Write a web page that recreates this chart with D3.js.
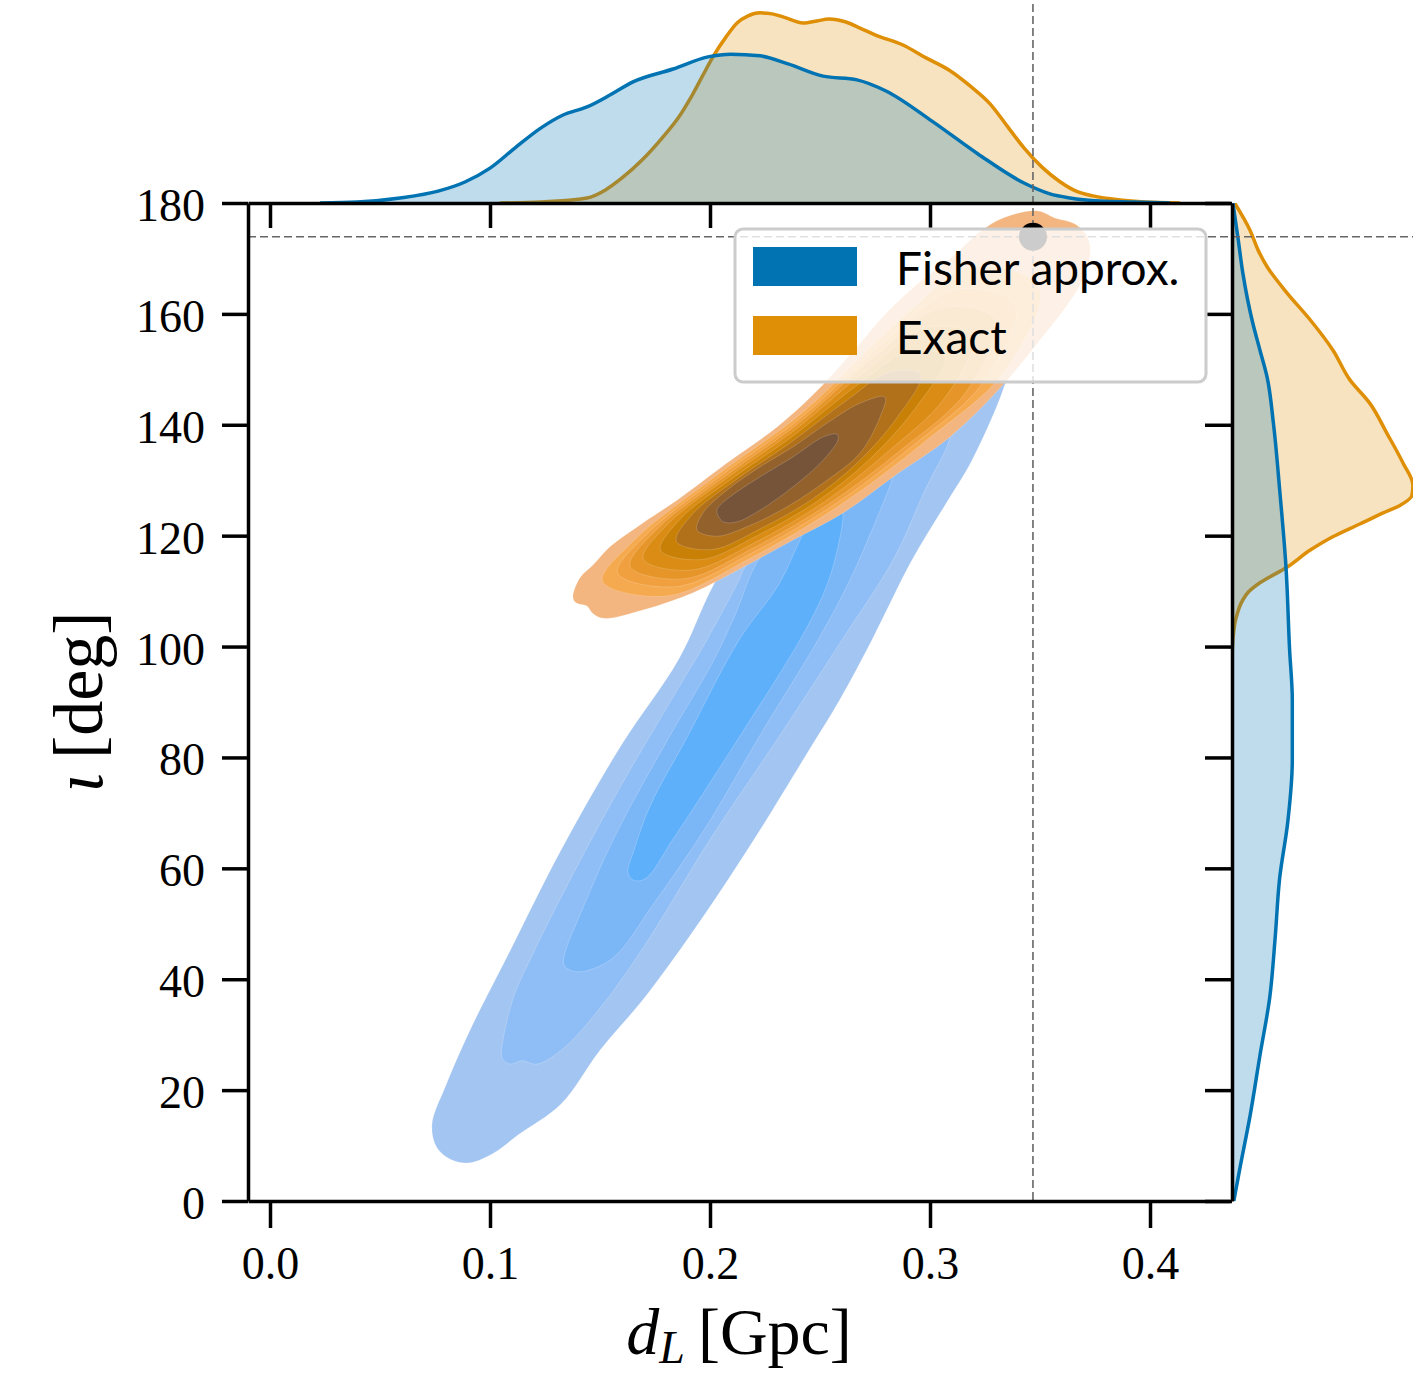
<!DOCTYPE html>
<html>
<head>
<meta charset="utf-8">
<script src="https://cdn.jsdelivr.net/npm/d3@7"></script>
<style>
  body { margin: 0; background: #fff; }
  svg { display: block; }
</style>
</head>
<body>
<svg></svg>
<script>
const w = 1413
const h = 1378

// ---- data ----
const dLTicks = [0, 0.1, 0.2, 0.3, 0.4]
const iotaTicks = [0, 20, 40, 60, 80, 100, 120, 140, 160, 180]
const seriesNames = ['Fisher approx.', 'Exact']
const trueDL = 0.3468
const trueIota = 173.9

// top marginal: [d_L, density]
const fisherMargDL = [[0.0227,0],[0.0395,0.03],[0.0591,0.15],[0.0764,0.35],[0.0886,0.62],[0.1,1.03],[0.1114,1.63],[0.1232,2.22],[0.1332,2.60],[0.1441,2.84],[0.1545,3.19],[0.165,3.58],[0.1832,3.96],[0.1991,4.32],[0.2095,4.40],[0.2227,4.35],[0.2355,4.11],[0.2514,3.75],[0.2668,3.64],[0.28,3.31],[0.3009,2.42],[0.3218,1.45],[0.3427,0.59],[0.3545,0.27],[0.3636,0.15],[0.3773,0.06],[0.3923,0.03],[0.409,0]]
const exactMargDL = [[0.1045,0],[0.1232,0.03],[0.1441,0.15],[0.1523,0.38],[0.16,0.74],[0.1691,1.27],[0.1782,1.92],[0.1855,2.51],[0.1914,3.13],[0.1968,3.78],[0.2018,4.37],[0.2073,4.91],[0.2123,5.32],[0.2173,5.53],[0.2227,5.62],[0.2282,5.59],[0.2332,5.50],[0.2423,5.32],[0.2486,5.38],[0.2541,5.44],[0.2618,5.35],[0.2682,5.17],[0.275,4.97],[0.2877,4.67],[0.2982,4.29],[0.3086,3.93],[0.3182,3.46],[0.3273,2.93],[0.335,2.28],[0.3427,1.63],[0.3509,1.06],[0.3586,0.65],[0.3664,0.35],[0.3741,0.21],[0.3864,0.09],[0.3977,0.03],[0.4136,0]]

// right marginal: [iota, density]
const fisherMargIota = [[0,0.0002],[6.1,0.0009],[15.3,0.0020],[26.2,0.0031],[36.8,0.0042],[47.6,0.0048],[58.3,0.0053],[68.4,0.0062],[79.5,0.0067],[90.4,0.0067],[99.4,0.0064],[114.3,0.0060],[128.2,0.0053],[140.3,0.0046],[148.6,0.0039],[153.5,0.0031],[158.4,0.0023],[167.4,0.0012],[173.3,0.0007],[180,0.0001]]
const exactMargIota = [[97.6,0],[101.2,0.0001],[104.8,0.0004],[108.4,0.0012],[109.8,0.0018],[111.5,0.0031],[114.3,0.0061],[117.4,0.0087],[119.8,0.0112],[122.1,0.0142],[124.1,0.0168],[125.5,0.0187],[127.3,0.0200],[129.1,0.0201],[133.1,0.0190],[138.5,0.0172],[143.9,0.0153],[148.1,0.0131],[153.5,0.0112],[158.9,0.0087],[163.8,0.0061],[168.5,0.0039],[171.5,0.0029],[175.1,0.0020],[180,0.0003]]

// filled KDE contour levels, outer -> inner, [d_L, iota]
const fisherLevels = [
  [[0.3332,146.3],[0.3355,150.2],[0.3250,153.5],[0.2864,149.5],[0.25,137.3],[0.2227,124.6],[0.2018,111.3],[0.1859,97.8],[0.1595,82.1],[0.1323,63.3],[0.1077,44.0],[0.0909,30.8],[0.0800,20.9],[0.0736,13.7],[0.0759,9.6],[0.0827,7.4],[0.0909,6.9],[0.1023,8.8],[0.1127,11.9],[0.1323,17.5],[0.15,27.2],[0.1705,36.8],[0.1964,51.0],[0.2205,65.5],[0.2436,80.4],[0.2591,90.5],[0.2736,101.2],[0.2918,115.6],[0.3068,125.5],[0.3191,133.6]],
  [[0.3091,137.8],[0.3082,139.4],[0.3,140.9],[0.2682,132.7],[0.2364,122.8],[0.2159,114.3],[0.2132,112.0],[0.1986,101.2],[0.1859,92.7],[0.1564,72.7],[0.1323,54.8],[0.1182,43.5],[0.1109,37.0],[0.1059,29.0],[0.1055,25.8],[0.1091,24.7],[0.1145,25.3],[0.1214,24.7],[0.1336,27.6],[0.15,34.8],[0.1695,45.6],[0.2005,65.5],[0.2318,84.0],[0.2600,101.2],[0.2832,115.6],[0.2977,128.2]],
  [[0.2832,130.6],[0.2841,132.2],[0.2682,130.9],[0.2409,122.8],[0.2227,116.0],[0.2114,105.7],[0.2018,97.6],[0.1809,83.3],[0.1564,65.5],[0.1405,51.2],[0.1345,45.3],[0.1336,42.6],[0.1373,41.5],[0.1436,41.5],[0.1564,44.0],[0.1740,53.4],[0.1973,66.9],[0.2241,84.9],[0.2491,101.2],[0.2636,112.0],[0.2736,121.0]],
  [[0.2605,124.1],[0.2591,126.4],[0.2477,124.3],[0.2409,119.2],[0.2314,111.3],[0.2132,101.2],[0.1891,83.3],[0.1727,71.2],[0.1655,63.3],[0.1627,59.3],[0.165,57.9],[0.1705,58.1],[0.1836,65.5],[0.2127,83.3],[0.2409,101.2],[0.2523,110.2],[0.2573,116.5]]
]
const exactLevels = [
  [[0.1377,108.9],[0.1409,112.4],[0.1468,114.7],[0.1545,118.0],[0.1695,122.3],[0.1850,126.4],[0.2077,133.1],[0.2305,139.6],[0.2468,145.4],[0.2636,152.6],[0.2805,160.3],[0.2955,165.8],[0.3105,170.4],[0.3227,174.8],[0.3332,177.3],[0.3486,178.6],[0.3568,177.3],[0.3659,176.2],[0.3718,173.7],[0.3727,170.6],[0.3682,165.2],[0.36,160.3],[0.35,155.3],[0.3332,147.2],[0.3091,137.8],[0.2832,130.6],[0.2605,124.1],[0.2377,119.2],[0.2150,114.3],[0.1923,109.7],[0.1695,106.6],[0.1514,105.1],[0.1464,106.1],[0.1441,107.3],[0.1391,107.9]],
  [[0.1511,111.8],[0.1801,109.1],[0.2181,115.9],[0.2595,125.6],[0.2978,137.0],[0.3337,149.6],[0.3497,164.8],[0.3189,168.5],[0.2863,158.9],[0.2426,142.4],[0.2041,131.2],[0.1664,119.5]],
  [[0.1580,113.3],[0.1844,110.8],[0.2191,116.9],[0.2568,125.7],[0.2917,136.1],[0.3243,147.7],[0.3387,161.6],[0.3117,164.4],[0.2816,155.8],[0.2412,141.2],[0.2060,131.1],[0.1716,120.4]],
  [[0.1637,114.5],[0.1879,112.2],[0.2198,117.8],[0.2546,125.9],[0.2866,135.4],[0.3165,146.0],[0.3296,158.9],[0.3055,161.1],[0.2777,153.3],[0.2400,140.2],[0.2075,130.9],[0.1760,121.2]],
  [[0.1697,115.8],[0.1916,113.8],[0.2206,118.8],[0.2520,126.1],[0.2804,135.0],[0.3068,144.9],[0.3197,156.0],[0.2988,157.6],[0.2734,150.6],[0.2387,139.1],[0.2091,130.8],[0.1806,122.0]],
  [[0.1775,117.4],[0.1963,115.7],[0.2214,120.0],[0.2487,126.2],[0.2731,134.0],[0.2943,143.5],[0.3069,152.3],[0.2897,153.1],[0.2675,147.3],[0.2368,137.7],[0.2111,130.6],[0.1865,123.0]],
  [[0.1847,119.0],[0.2009,117.5],[0.2226,121.2],[0.2461,126.5],[0.2671,133.2],[0.2852,141.4],[0.2959,149.1],[0.2817,149.5],[0.2625,144.5],[0.2356,136.5],[0.2133,130.5],[0.1921,123.9]],
  [[0.1941,121.0],[0.2032,119.9],[0.2168,121.6],[0.2350,125.2],[0.2532,130.0],[0.2682,134.9],[0.2773,141.4],[0.2795,145.0],[0.2682,143.9],[0.2532,140.3],[0.2377,136.0],[0.2227,132.4],[0.2077,128.2],[0.1968,124.1]],
  [[0.2032,124.1],[0.2059,122.5],[0.2123,122.5],[0.2227,124.6],[0.2377,128.8],[0.2514,133.6],[0.2582,137.3],[0.2577,138.3],[0.2514,137.8],[0.2377,134.2],[0.2227,130.6],[0.2091,127.0],[0.2036,125.0]]
]

// colours
const fisherColor = '#0173b2'
const exactColor = '#de8f05'
const fisherFills = ['#a3c5f1', '#8fbdf5', '#7bb6f6', '#5fb0fa']
const exactFills = ['#f3b680', '#f5aa50', '#f0a03f', '#e69528', '#da8c14', '#c98006', '#b1701a', '#93612b', '#76543a']

const serif = "'Liberation Serif', 'DejaVu Serif', serif"
const sans = "Lato, 'Open Sans', sans-serif"

const svg = d3.select('svg')
  .attr('width', w)
  .attr('height', h)

// main axes box
const axL = 248, axR = 1230, axT = 203, axB = 1201

const x = d3.scaleLinear().domain([-0.01, 0.43636]).range([axL, axR])
const y = d3.scaleLinear().domain([0, 180]).range([axB, axT])
const topY = d3.scaleLinear().domain([0, 6]).range([axT, 0])          // marginal density of d_L
const rightX = d3.scaleLinear().domain([0, 0.02]).range([1232, 1412]) // marginal density of iota

const defs = svg.append('defs')
defs.append('clipPath').attr('id', 'clip-main')
  .append('rect').attr('x', axL).attr('y', axT).attr('width', axR - axL).attr('height', axB - axT)
defs.append('clipPath').attr('id', 'clip-top')
  .append('rect').attr('x', axL).attr('y', 0).attr('width', axR - axL).attr('height', axT)
defs.append('clipPath').attr('id', 'clip-right')
  .append('rect').attr('x', 1232).attr('y', axT).attr('width', w - 1232).attr('height', axB - axT)

// ---- joint KDE contours ----
const contourLine = d3.line()
  .x(d => x(d[0]))
  .y(d => y(d[1]))
  .curve(d3.curveCatmullRomClosed.alpha(0.5))

const main = svg.append('g').attr('clip-path', 'url(#clip-main)')

main.selectAll('path.fisher').data(fisherLevels)
  .join('path')
  .attr('class', 'fisher')
  .attr('d', contourLine)
  .attr('fill', (d, i) => fisherFills[i])
  .attr('stroke', '#ffffff').attr('stroke-opacity', 0.3).attr('stroke-width', 0.7)

main.selectAll('path.exact').data(exactLevels)
  .join('path')
  .attr('class', 'exact')
  .attr('d', contourLine)
  .attr('fill', (d, i) => exactFills[i])
  .attr('stroke', '#ffffff').attr('stroke-opacity', 0.25).attr('stroke-width', 0.7)

// ---- marginal KDEs (Exact drawn first, Fisher on top) ----
const topArea = d3.area().x(d => x(d[0])).y0(topY(0)).y1(d => topY(d[1])).curve(d3.curveMonotoneX)
const topLine = d3.line().x(d => x(d[0])).y(d => topY(d[1])).curve(d3.curveMonotoneX)
const rightArea = d3.area().y(d => y(d[0])).x0(rightX(0)).x1(d => rightX(d[1])).curve(d3.curveMonotoneY)
const rightLine = d3.line().y(d => y(d[0])).x(d => rightX(d[1])).curve(d3.curveMonotoneY)

const margTop = svg.append('g').attr('clip-path', 'url(#clip-top)')
const margRight = svg.append('g').attr('clip-path', 'url(#clip-right)')

const margSeries = [
  {top: exactMargDL, right: exactMargIota, color: exactColor},
  {top: fisherMargDL, right: fisherMargIota, color: fisherColor}
]
margSeries.forEach(s => {
  margTop.append('path').attr('d', topArea(s.top)).attr('fill', s.color).attr('fill-opacity', 0.25)
  margTop.append('path').attr('d', topLine(s.top)).attr('fill', 'none')
    .attr('stroke', s.color).attr('stroke-width', 3.5)
  margRight.append('path').attr('d', rightArea(s.right)).attr('fill', s.color).attr('fill-opacity', 0.25)
  margRight.append('path').attr('d', rightLine(s.right)).attr('fill', 'none')
    .attr('stroke', s.color).attr('stroke-width', 3.5)
})

// ---- true-value guides ----
svg.append('line')
  .attr('x1', x(trueDL)).attr('x2', x(trueDL))
  .attr('y1', 4).attr('y2', axB)
  .attr('stroke', '#666').attr('stroke-width', 1.6).attr('stroke-dasharray', '8,4')
svg.append('line')
  .attr('x1', axL).attr('x2', w)
  .attr('y1', y(trueIota)).attr('y2', y(trueIota))
  .attr('stroke', '#666').attr('stroke-width', 1.6).attr('stroke-dasharray', '8,4')
svg.append('circle')
  .attr('cx', x(trueDL)).attr('cy', y(trueIota)).attr('r', 14)
  .attr('fill', '#000')

// ---- axes ----
const styleAxis = g => {
  g.selectAll('.domain').attr('stroke', '#000').attr('stroke-width', 3.5)
  g.selectAll('.tick line').attr('stroke', '#000').attr('stroke-width', 3.5)
  g.selectAll('.tick text')
    .attr('font-family', serif)
    .attr('font-size', 46)
    .attr('fill', '#000')
}

const yAxisG = svg.append('g')
  .attr('transform', `translate(${axL},0)`)
  .call(d3.axisLeft(y).tickValues(iotaTicks).tickFormat(d3.format('d'))
    .tickSize(26).tickSizeOuter(0).tickPadding(17))
  .call(styleAxis)
yAxisG.selectAll('.tick text').attr('dy', '0.38em')

const xAxisG = svg.append('g')
  .attr('transform', `translate(0,${axB})`)
  .call(d3.axisBottom(x).tickValues(dLTicks).tickFormat(d3.format('.1f'))
    .tickSize(27).tickSizeOuter(0).tickPadding(18))
  .call(styleAxis)

// marginal axes (ticks only, shared scales)
svg.append('g')
  .attr('transform', `translate(0,${axT})`)
  .call(d3.axisBottom(x).tickValues(dLTicks).tickFormat('').tickSize(25).tickSizeOuter(0))
  .call(styleAxis)
svg.append('g')
  .attr('transform', `translate(1232,0)`)
  .call(d3.axisLeft(y).tickValues(iotaTicks).tickFormat('').tickSize(27).tickSizeOuter(0))
  .call(styleAxis)

// axis labels
const xLabel = svg.append('text')
  .attr('x', (axL + axR) / 2)
  .attr('y', 1354)
  .attr('text-anchor', 'middle')
  .attr('font-family', serif)
  .attr('font-size', 66)
xLabel.append('tspan').attr('font-style', 'italic').text('d')
xLabel.append('tspan').attr('font-style', 'italic').attr('font-size', 46).attr('dy', 9).text('L')
xLabel.append('tspan').attr('dy', -9).text('\u2009[Gpc]')

const yLabel = svg.append('text')
  .attr('transform', `translate(102,${(axT + axB) / 2}) rotate(-90)`)
  .attr('text-anchor', 'middle')
  .attr('font-family', serif)
  .attr('font-size', 70)
yLabel.append('tspan').attr('font-style', 'italic').text('\u03b9')
yLabel.append('tspan').text('\u2009[deg]')

// ---- legend ----
const legend = svg.append('g')
legend.append('rect')
  .attr('x', 735).attr('y', 229).attr('width', 471).attr('height', 153)
  .attr('rx', 8)
  .attr('fill', '#fff').attr('fill-opacity', 0.8)
  .attr('stroke', '#cccccc').attr('stroke-width', 3)
const legendItems = legend.selectAll('g.item').data(seriesNames)
  .join('g')
  .attr('class', 'item')
  .attr('transform', (d, i) => `translate(753,${247 + i * 69})`)
legendItems.append('rect')
  .attr('width', 104).attr('height', 39)
  .attr('fill', (d, i) => [fisherColor, exactColor][i])
legendItems.append('text')
  .attr('x', 143).attr('y', 38)
  .attr('font-family', sans)
  .attr('font-size', 46)
  .attr('fill', '#000')
  .text(d => d)
</script>
</body>
</html>
